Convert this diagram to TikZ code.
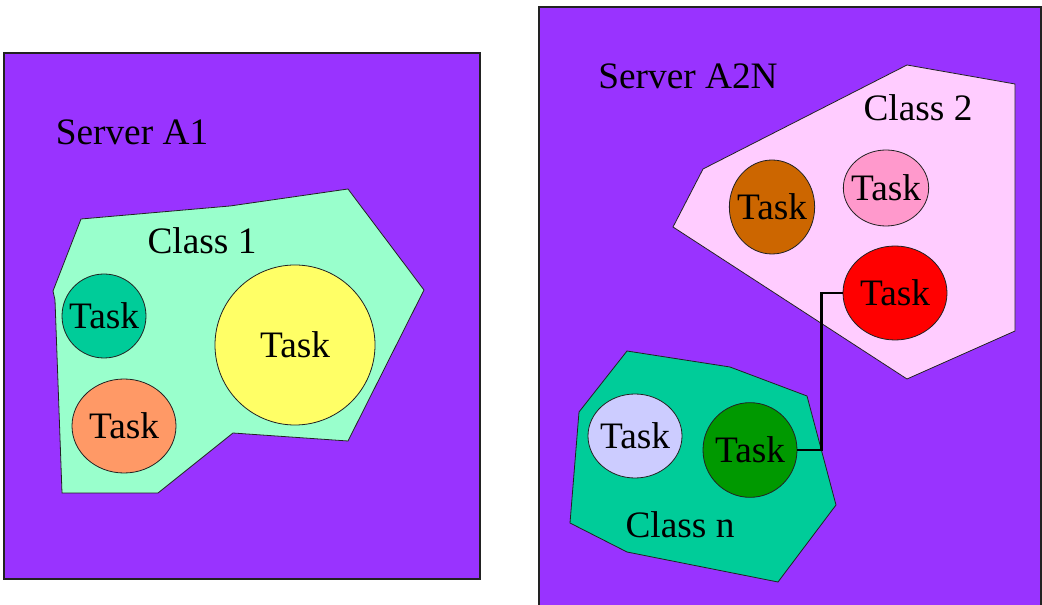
\documentclass[tikz,border=0pt]{standalone}
\usepackage{fontspec}
\setmainfont{Liberation Serif}
\usetikzlibrary{shapes.geometric}
\definecolor{srv}{HTML}{9933FF}
\definecolor{cone}{HTML}{99FFCC}
\definecolor{ctwo}{HTML}{FFCCFF}
\definecolor{cn}{HTML}{00CC99}
\definecolor{tteal}{HTML}{00CC99}
\definecolor{torange}{HTML}{FF9966}
\definecolor{tyellow}{HTML}{FFFF66}
\definecolor{tbrown}{HTML}{CC6600}
\definecolor{tpink}{HTML}{FF99CC}
\definecolor{tred}{HTML}{FF0000}
\definecolor{tlav}{HTML}{CCCCFF}
\definecolor{tgreen}{HTML}{009900}
\definecolor{edge}{HTML}{222222}
\tikzset{
  server/.style={fill=srv, draw=edge, line width=1.2pt},
  classarea/.style={draw=edge, line width=0.6pt},
  task/.style={ellipse, draw=edge, line width=0.6pt, inner sep=0pt},
  lbl/.style={font=\fontsize{28}{30}\selectfont, inner sep=0pt, text=black},
  link/.style={draw=black, line width=2.2pt}
}
\begin{document}
\begin{tikzpicture}[x=0.75pt,y=-0.75pt]
\useasboundingbox (0,0) rectangle (1042,605);
\begin{scope}
\clip (0,0) rectangle (1042,605);
% servers
\draw[server] (4,53) rectangle (480,579);
\draw[server] (539,7) rectangle (1041,612);
% class areas
\draw[classarea, fill=cone] (81,219) -- (230,206) -- (348,189) -- (424,290) -- (348,441) -- (233,433) -- (158,493) -- (62,493) -- (55,300) -- (53,291) -- cycle;
\draw[classarea, fill=ctwo] (907,65) -- (1015,84) -- (1015,331) -- (907,379) -- (673,227) -- (703,169) -- cycle;
\draw[classarea, fill=cn] (627,351) -- (730,367) -- (807,396) -- (836,505) -- (778,582) -- (627,552) -- (570,523) -- (579,412) -- cycle;
\end{scope}
% labels
\node[lbl] (sa1) at (132,132) {Server A1};
\node[lbl] (sa2n) at (688,76) {Server A2N};
\node[lbl] (c1) at (202,241) {Class 1};
\node[lbl] (c2) at (918,108) {Class 2};
\node[lbl] (cnl) at (680,525) {Class n};
% tasks, left
\node[task, fill=tteal, minimum width=63pt, minimum height=63pt] (t1) at (104,316) {};
\node[task, fill=torange, minimum width=78pt, minimum height=70.5pt] (t2) at (124,426) {};
\node[task, fill=tyellow, minimum width=120pt, minimum height=120pt] (t3) at (295,345) {};
% tasks, right
\node[task, fill=tbrown, minimum width=64pt, minimum height=70.5pt] (t4) at (772,207) {};
\node[task, fill=tpink, minimum width=64pt, minimum height=57pt] (t5) at (886,188) {};
\node[task, fill=tred, minimum width=78pt, minimum height=70.5pt] (t6) at (895,293) {};
\node[task, fill=tlav, minimum width=70.5pt, minimum height=63pt] (t7) at (635,436) {};
\node[task, fill=tgreen, minimum width=70.5pt, minimum height=71pt] (t8) at (750,450) {};
% task texts
\foreach \n in {t1,t2,t3,t4,t5,t6,t7,t8}{
  \node[lbl] (\n txt) at (\n) {Task};
}
% connector
\draw[link] (t8.east) -- ++(24,0) |- (t6.west);
\end{tikzpicture}
\end{document}
